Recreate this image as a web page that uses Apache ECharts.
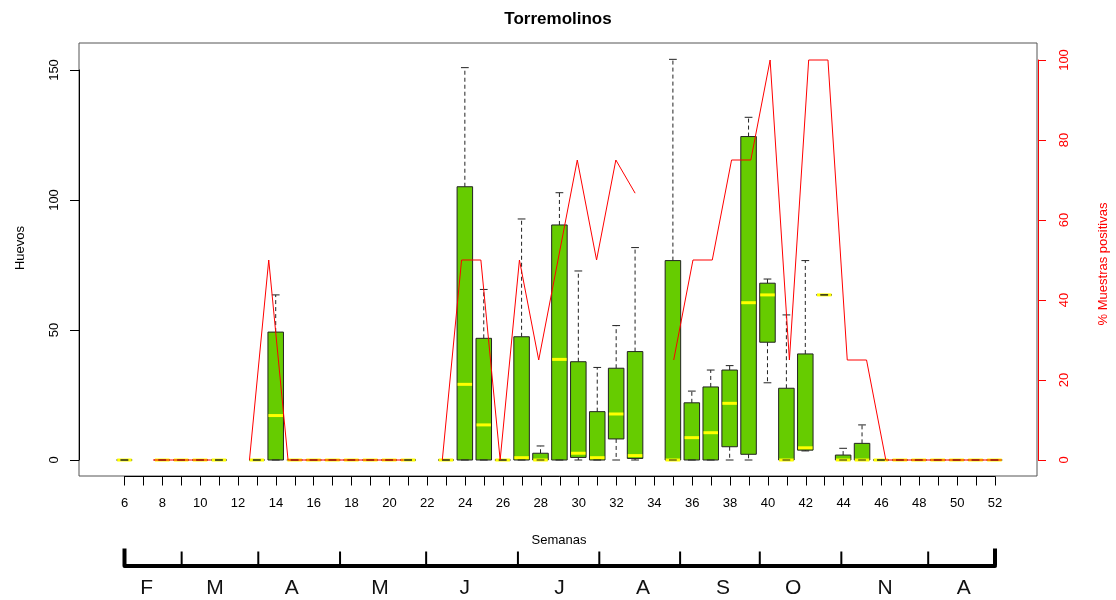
<!DOCTYPE html>
<html>
<head>
<meta charset="utf-8">
<script src="https://cdn.jsdelivr.net/npm/echarts@6.0.0/dist/echarts.min.js"></script>
<style>
html,body{margin:0;padding:0;background:#fff;}
#chart{width:1116px;height:600px;}
</style>
</head>
<body>
<div id="chart"></div>
<script>
// ---------- data ----------
const boxWeeks  = [6,8,9,10,11,13,14,15,16,17,18,19,20,21,23,24,25,26,27,28,29,30,31,32,33,35,36,37,38,39,40,41,42,43,44,45,46,47,48,49,50,51,52];
const boxMin    = [0,0,0,0,0, 0,0,0,0,0, 0,0,0,0,0, 0,0,0,0,0, 0,0,0,0,0, 0,0,0,0,0, 29.7,0,3.5,63.5,0, 0,0,0,0,0, 0,0,0];
const boxQ1     = [0,0,0,0,0, 0,0,0,0,0, 0,0,0,0,0, 0,0,0,0,0, 0,1.0,0,8.1,0.6, 0,0,0,5.1,2.2, 45.3,0,3.8,63.5,0, 0,0,0,0,0, 0,0,0];
const boxMedian = [0,0,0,0,0, 0,17.1,0,0,0, 0,0,0,0,0, 29.1,13.5,0,0.9,0, 38.7,2.6,0.9,17.7,1.7, 0,8.6,10.5,21.8,60.5, 63.5,0,4.7,63.5,0, 0,0,0,0,0, 0,0,0];
const boxQ3     = [0,0,0,0,0, 0,49.2,0,0,0, 0,0,0,0,0, 105.1,46.8,0,47.4,2.6, 90.4,37.8,18.6,35.3,41.7, 76.7,22,28.1,34.6,124.4, 68,27.6,40.8,63.5,1.9, 6.4,0,0,0,0, 0,0,0];
const boxMax    = [0,0,0,0,0, 0,63.5,0,0,0, 0,0,0,0,0, 150.9,65.6,0,92.7,5.4, 102.8,72.7,35.6,51.7,81.7, 154.1,26.5,34.6,36.3,131.8, 69.6,55.8,76.7,63.5,4.5, 13.5,0,0,0,0, 0,0,0];

const lineWeeks = [6,7,8,9,10,11,12,13,14,15,16,17,18,19,20,21,22,23,24,25,26,27,28,29,30,31,32,33,34,35,36,37,38,39,40,41,42,43,44,45,46,47,48,49,50,51,52];
const linePct   = [0,null,0,0,0,0,null,0,50,0,0,0,0,0,0,0,null,0,50,50,0,50,25,50,75,50,75,66.7,null,25,50,50,75,75,100,25,100,100,25,25,0,0,0,0,0,0,0];

const huevosTicks = [0, 50, 100, 150];
const pctTicks = [0, 20, 40, 60, 80, 100];

const monthLetters       = ['F','M','A','M','J','J','A','S','O','N','A'];
const monthBoundaryWeeks = [6, 9.02, 13.07, 17.39, 21.94, 26.79, 31.09, 35.36, 39.57, 43.88, 48.47, 52];
const monthLabelWeeks    = [7.17, 10.78, 14.84, 19.5, 23.98, 28.99, 33.4, 37.63, 41.33, 46.19, 50.35];

// ---------- chart ----------
const FONT = 'Liberation Sans, Arial, sans-serif';
const chart = echarts.init(document.getElementById('chart'), null, {renderer: 'canvas'});

function renderBox(params, api) {
  const w = api.value(0);
  const pts = [1,2,3,4,5].map(d => api.coord([w, api.value(d)]));
  const cx = pts[0][0];
  const bw = api.size([0.82, 0])[0];
  const hb = bw / 2, hc = bw / 4;
  const yMin = pts[0][1], yQ1 = pts[1][1], yMed = pts[2][1], yQ3 = pts[3][1], yMax = pts[4][1];
  const dash = {stroke: '#222', lineWidth: 1, lineDash: [4, 3], fill: null};
  const solid = {stroke: '#222', lineWidth: 1, fill: null};
  const ch = [];
  if (yMax < yQ3 - 0.5) ch.push({type: 'line', shape: {x1: cx, y1: yQ3, x2: cx, y2: yMax}, style: dash});
  if (yMin > yQ1 + 0.5) ch.push({type: 'line', shape: {x1: cx, y1: yQ1, x2: cx, y2: yMin}, style: dash});
  ch.push({type: 'rect', shape: {x: cx - hb, y: yQ3, width: bw, height: Math.max(yQ1 - yQ3, 0)},
           style: {fill: '#66CC00', stroke: '#222', lineWidth: 1}});
  ch.push({type: 'line', shape: {x1: cx - hb + 0.5, y1: yMed, x2: cx + hb - 0.5, y2: yMed},
           style: {stroke: '#FFFF00', lineWidth: 3, fill: null}});
  ch.push({type: 'line', shape: {x1: cx - hc, y1: yMax, x2: cx + hc, y2: yMax}, style: solid});
  ch.push({type: 'line', shape: {x1: cx - hc, y1: yMin, x2: cx + hc, y2: yMin}, style: solid});
  return {type: 'group', children: ch};
}

function renderMonthTick(params, api) {
  const p = api.coord([api.value(0), 0]);
  const isEnd = params.dataIndex === 0 || params.dataIndex === monthBoundaryWeeks.length - 1;
  return {
    type: 'line',
    shape: {x1: p[0], y1: p[1], x2: p[0], y2: p[1] - (isEnd ? 17 : 14)},
    style: {stroke: '#000', lineWidth: isEnd ? 4 : 2}
  };
}

function renderMonthLabel(params, api) {
  const p = api.coord([api.value(0), 0]);
  return {
    type: 'text',
    x: p[0], y: p[1] + 23,
    style: {text: monthLetters[params.dataIndex], x: 0, y: 0, align: 'center', verticalAlign: 'middle',
            fill: '#111', font: '21px ' + FONT}
  };
}

const hidden = {show: false, splitLine: {show: false}, axisLine: {show: false, onZero: false}};

const option = {
  animation: false,
  backgroundColor: '#fff',
  title: {
    text: 'Torremolinos', left: 'center', top: 6,
    textStyle: {fontSize: 17, fontWeight: 'bold', color: '#000', fontFamily: FONT}
  },
  grid: [
    {left: 79, top: 43, width: 958, height: 433, show: true, borderColor: '#555', borderWidth: 1, backgroundColor: 'transparent'},
    {left: 79, top: 70, width: 958, height: 390},
    {left: 79.5, top: 60, width: 958.5, height: 400},
    {left: 124.5, top: 470, width: 870.5, height: 6.5},
    {left: 124.5, top: 545, width: 870.5, height: 20.5}
  ],
  xAxis: [
    Object.assign({type: 'value', gridIndex: 0, min: 3.6, max: 54.25}, hidden),
    Object.assign({type: 'value', gridIndex: 0, min: 4.16, max: 53.84}, hidden),
    Object.assign({type: 'value', gridIndex: 1, min: 0, max: 1}, hidden),
    Object.assign({type: 'value', gridIndex: 2, min: 0, max: 1}, hidden),
    {
      type: 'value', gridIndex: 3, position: 'bottom', min: lineWeeks[0], max: lineWeeks[lineWeeks.length - 1], interval: 1,
      axisLine: {show: true, onZero: false, lineStyle: {color: '#000', width: 1}},
      axisTick: {show: true, length: 9, lineStyle: {color: '#000'}},
      axisLabel: {show: true, margin: 20, fontSize: 13, color: '#000', fontFamily: FONT,
                  formatter: v => (v % 2 === 0 ? String(v) : '')},
      splitLine: {show: false}
    },
    {
      type: 'value', gridIndex: 4, position: 'bottom', min: lineWeeks[0], max: lineWeeks[lineWeeks.length - 1],
      axisLine: {show: true, onZero: false, lineStyle: {color: '#000', width: 4}},
      axisTick: {show: false}, axisLabel: {show: false}, splitLine: {show: false}
    }
  ],
  yAxis: [
    Object.assign({type: 'value', gridIndex: 0, min: -6.15, max: 160.38}, hidden),
    Object.assign({type: 'value', gridIndex: 0, min: -4, max: 104.25}, hidden),
    {
      type: 'value', gridIndex: 1, position: 'left', min: huevosTicks[0], max: huevosTicks[huevosTicks.length - 1],
      interval: huevosTicks[1] - huevosTicks[0],
      axisLine: {show: true, onZero: false, lineStyle: {color: '#000', width: 1}},
      axisTick: {show: true, length: 9, lineStyle: {color: '#000'}},
      axisLabel: {show: true, rotate: 90, margin: 18, fontSize: 13, color: '#000', fontFamily: FONT},
      splitLine: {show: false}
    },
    {
      type: 'value', gridIndex: 2, position: 'right', min: pctTicks[0], max: pctTicks[pctTicks.length - 1],
      interval: pctTicks[1] - pctTicks[0],
      axisLine: {show: true, onZero: false, lineStyle: {color: '#FF0000', width: 1}},
      axisTick: {show: true, length: 8, lineStyle: {color: '#FF0000'}},
      axisLabel: {show: true, rotate: 90, margin: 20, fontSize: 13, color: '#FF0000', fontFamily: FONT},
      splitLine: {show: false}
    },
    Object.assign({type: 'value', gridIndex: 3, min: 0, max: 1}, hidden),
    Object.assign({type: 'value', gridIndex: 4, min: 0, max: 1}, hidden)
  ],
  graphic: [
    {type: 'text', x: 20, y: 248, rotation: Math.PI / 2,
     style: {text: 'Huevos', align: 'center', verticalAlign: 'middle', fill: '#000', font: '13px ' + FONT}},
    {type: 'text', x: 1103, y: 264, rotation: Math.PI / 2,
     style: {text: '% Muestras positivas', align: 'center', verticalAlign: 'middle', fill: '#FF0000', font: '13px ' + FONT}},
    {type: 'text', x: 559, y: 540,
     style: {text: 'Semanas', align: 'center', verticalAlign: 'middle', fill: '#000', font: '13px ' + FONT}}
  ],
  series: [
    {
      type: 'custom', name: 'Huevos', xAxisIndex: 0, yAxisIndex: 0,
      renderItem: renderBox, clip: false, z: 2,
      encode: {x: 0, y: [1, 2, 3, 4, 5]},
      data: boxWeeks.map((w, i) => [w, boxMin[i], boxQ1[i], boxMedian[i], boxQ3[i], boxMax[i]])
    },
    {
      type: 'line', name: '% Muestras positivas', xAxisIndex: 1, yAxisIndex: 1,
      showSymbol: false, symbol: 'none', connectNulls: false, clip: false, z: 5,
      lineStyle: {color: '#FF0000', width: 1}, itemStyle: {color: '#FF0000'},
      data: lineWeeks.map((w, i) => [w, linePct[i]])
    },
    {
      type: 'custom', xAxisIndex: 5, yAxisIndex: 5, renderItem: renderMonthTick, clip: false,
      data: monthBoundaryWeeks.map(w => [w, 0])
    },
    {
      type: 'custom', xAxisIndex: 5, yAxisIndex: 5, renderItem: renderMonthLabel, clip: false,
      data: monthLabelWeeks.map(w => [w, 0])
    }
  ]
};
chart.setOption(option);
</script>
</body>
</html>
